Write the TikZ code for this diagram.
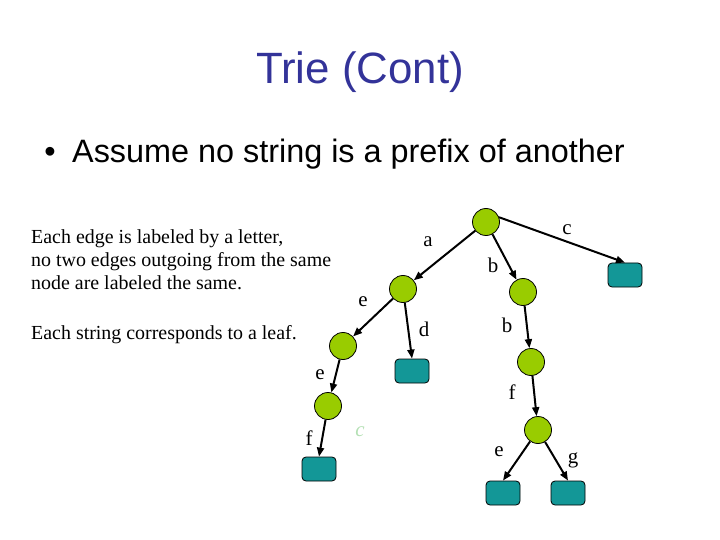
\documentclass[tikz,border=0pt]{standalone}
\usepackage{fontspec}
\setmainfont{Liberation Serif}
\newfontfamily\arialfont{Liberation Sans}
\usetikzlibrary{arrows.meta}

\begin{document}
\begin{tikzpicture}[
    x=1bp, y=-1bp,
    >={Triangle[length=9bp, width=7bp]},
    inner/.style={circle, draw=black, line width=0.8bp, fill=cInner, minimum size=27bp, inner sep=0pt},
    leaf/.style={rectangle, rounded corners=4bp, draw=black, line width=0.8bp, fill=cLeaf, minimum width=34bp, minimum height=24bp, inner sep=0pt},
    edgelab/.style={font=\fontsize{21}{22}\selectfont, inner sep=0pt},
    edge/.style={->, line width=2bp, black},
    bodytext/.style={font=\fontsize{20}{23.5}\selectfont, align=left, anchor=north west, inner sep=0pt},
]

\definecolor{cTitle}{HTML}{333399}  % titolo
\definecolor{cInner}{HTML}{99CC00}  % nodi interni
\definecolor{cLeaf}{HTML}{139797}   % foglie
\definecolor{cGhost}{HTML}{B4E0B4}  % c sbiadita

\useasboundingbox (0,0) rectangle (720,540);

\node[font=\arialfont\fontsize{44}{50}\selectfont, text=cTitle, anchor=base] (title) at (360,84) {Trie (Cont)};
\node[font=\arialfont\fontsize{32.5}{38}\selectfont, anchor=base] (bullet) at (50,163) {•};
\node[font=\arialfont\fontsize{32.5}{38}\selectfont, anchor=base west, inner sep=0pt] (assume) at (72,163) {Assume no string is a prefix of another};

\node[bodytext] (rule1) at (31,229) {Each edge is labeled by a letter,\\no two edges outgoing from the same\\node are labeled the same.};
\node[bodytext] (rule2) at (31,325) {Each string corresponds to a leaf.};

% nodi interni
\node[inner] (root) at (486,222) {};
\node[inner] (na)   at (403,289) {};
\node[inner] (nb)   at (523,292) {};
\node[inner] (nae)  at (343,346) {};
\node[inner] (nbb)  at (531,362) {};
\node[inner] (naee) at (328,406) {};
\node[inner] (nbbf) at (538,430) {};

% foglie
\node[leaf] (lc)    at (625,275) {};
\node[leaf] (lad)   at (412,371) {};
\node[leaf] (laeef) at (319,469) {};
\node[leaf] (lbbfe) at (503,493) {};
\node[leaf] (lbbfg) at (568,493) {};

\draw[edge] (root) -- (na);
\draw[edge] (root.20) -- (lc.north);
\draw[edge] (root) -- (nb);
\draw[edge] (na) -- (nae);
\draw[edge] (na) -- (lad.north);
\draw[edge] (nb) -- (nbb);
\draw[edge] (nae) -- (naee);
\draw[edge] (naee) -- (laeef.north);
\draw[edge] (nbb) -- (nbbf);
\draw[edge] (nbbf) -- (lbbfe.north);
\draw[edge] (nbbf) -- (lbbfg.north);

\node[edgelab] (la)   at (428,242) {a};
\node[edgelab] (lbc)  at (567,230) {c};
\node[edgelab] (lb1)  at (493,265) {b};
\node[edgelab] (le1)  at (363,302) {e};
\node[edgelab] (ld)   at (424,329) {d};
\node[edgelab] (lb2)  at (507,325) {b};
\node[edgelab] (le2)  at (320,375) {e};
\node[edgelab] (lf1)  at (512,392) {f};
\node[edgelab] (lf2)  at (309,438) {f};
\node[edgelab] (le3)  at (499,452) {e};
\node[edgelab] (lg)   at (573,460) {g};
\node[edgelab, text=cGhost, font=\fontsize{21}{22}\selectfont\itshape] (ghost) at (360,432) {c};

\end{tikzpicture}
\end{document}
